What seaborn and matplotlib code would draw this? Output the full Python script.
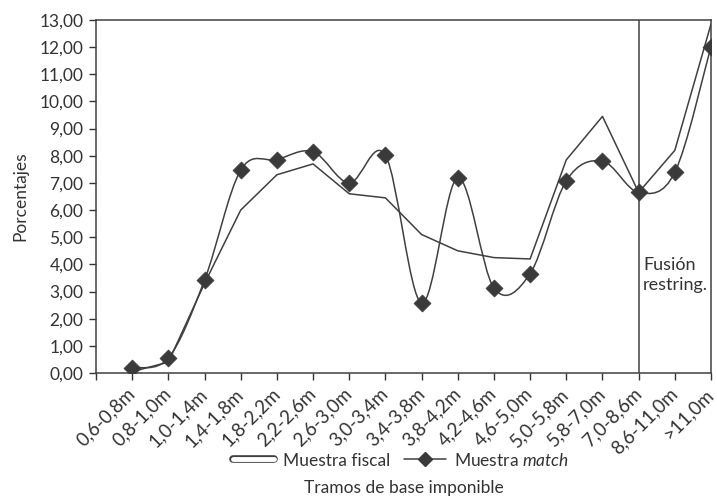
import numpy as np
import pandas as pd
import seaborn as sns
import matplotlib
matplotlib.use("Agg")
import matplotlib.pyplot as plt
from matplotlib.path import Path
from matplotlib.patches import PathPatch
from matplotlib.lines import Line2D
import matplotlib.patheffects as pe
from matplotlib.ticker import FuncFormatter, MultipleLocator

# Tramos de base imponible (millones) y porcentaje de observaciones por tramo
tramos = ["0,6-0,8m", "0,8-1,0m", "1,0-1,4m", "1,4-1,8m", "1,8-2,2m", "2,2-2,6m",
          "2,6-3,0m", "3,0-3,4m", "3,4-3,8m", "3,8-4,2m", "4,2-4,6m", "4,6-5,0m",
          "5,0-5,8m", "5,8-7,0m", "7,0-8,6m", "8,6-11,0m", ">11,0m"]
muestra_fiscal = [0.05, 0.40, 3.30, 6.00, 7.30, 7.70, 6.60, 6.45, 5.10, 4.50,
                  4.25, 4.20, 7.85, 9.45, 6.65, 8.20, 12.85]
muestra_match = [0.20, 0.55, 3.42, 7.47, 7.86, 8.15, 7.00, 8.02, 2.58, 7.19,
                 3.13, 3.66, 7.08, 7.80, 6.65, 7.39, 12.02]
tramo_fusion = "7,0-8,6m"
texto_fusion = "Fusión\nrestring."

INK = "#333333"
LINE = "#404040"

sns.set_theme(style="white")
plt.rcParams["font.family"] = ["Lato", "DejaVu Sans"]
plt.rcParams["mathtext.fontset"] = "custom"
plt.rcParams["mathtext.rm"] = "Lato"
plt.rcParams["mathtext.it"] = "Lato:italic"
plt.rcParams["text.color"] = INK
plt.rcParams["axes.labelcolor"] = INK
plt.rcParams["xtick.color"] = INK
plt.rcParams["ytick.color"] = INK

df = pd.DataFrame({
    "pos": np.arange(len(tramos)),
    "tramo": tramos,
    "fiscal": muestra_fiscal,
    "match": muestra_match,
})

fig = plt.figure(figsize=(7.17, 5.01), dpi=100)
W, H = 717, 501
ax = fig.add_axes([96 / W, 1 - 373 / H, (711 - 96) / W, (373 - 20) / H])

# Muestra fiscal: straight segments
sns.lineplot(data=df, x="pos", y="fiscal", ax=ax, color=LINE, lw=1.1,
             legend=False)


# Muestra match: smoothed curve (cubic Bezier through the points) + diamonds
def smooth_path(xs, ys):
    pts = np.column_stack([xs, ys]).astype(float)
    n = len(pts)
    verts = [pts[0]]
    codes = [Path.MOVETO]
    for i in range(n - 1):
        p0 = pts[max(i - 1, 0)]
        p1 = pts[i]
        p2 = pts[i + 1]
        p3 = pts[min(i + 2, n - 1)]
        verts += [p1 + (p2 - p0) / 6.0, p2 - (p3 - p1) / 6.0, p2]
        codes += [Path.CURVE4] * 3
    return Path(verts, codes)


ax.add_patch(PathPatch(smooth_path(df["pos"], df["match"]), facecolor="none",
                       edgecolor=LINE, lw=1.1, zorder=3))
sns.scatterplot(data=df, x="pos", y="match", ax=ax, marker="D", s=75,
                color="#3a3a3a", edgecolor="#3a3a3a", linewidth=0.5,
                zorder=4, legend=False)

# Vertical separator
xf = tramos.index(tramo_fusion)
ax.axvline(xf, color=LINE, lw=1.1, zorder=2)
ax.text(xf + 0.12, 3.6, texto_fusion, ha="left", va="center",
        fontsize=13, linespacing=1.3, color=INK)

# Axes formatting
ax.set_xlim(-1, len(tramos) - 1)
ax.set_ylim(0, 13)
ax.yaxis.set_major_locator(MultipleLocator(1))
ax.yaxis.set_major_formatter(FuncFormatter(lambda v, p: f"{v:.2f}".replace(".", ",")))
ax.set_xticks(np.arange(-1, len(tramos)))
ax.set_xticklabels([""] + tramos, rotation=45, ha="right", va="center",
                   rotation_mode="anchor", fontsize=13.5)
ax.tick_params(axis="y", labelsize=12.5, length=5, width=1, direction="out",
               left=True, pad=4)
ax.tick_params(axis="x", length=5, width=1, direction="out", bottom=True, pad=8)
for sp in ax.spines.values():
    sp.set_color(LINE)
    sp.set_linewidth(1.1)

ax.set_ylabel("Porcentajes", fontsize=12.5, labelpad=8)
ax.set_xlabel("Tramos de base imponible", fontsize=12.5)
ax.xaxis.set_label_coords(0.5, -0.302)

# Legend
h_fiscal = Line2D([], [], color="white", lw=3.5,
                  path_effects=[pe.Stroke(linewidth=5.5, foreground=LINE), pe.Normal()])
h_match = Line2D([], [], color=LINE, lw=1.1, marker="D", markersize=7,
                 markerfacecolor="#3a3a3a", markeredgecolor="#3a3a3a")
fig.legend([h_fiscal, h_match], ["Muestra fiscal", r"Muestra $\mathit{match}$"],
           loc="center", bbox_to_anchor=(401 / W, 1 - 460 / H), ncol=2,
           frameon=False, fontsize=12.5, handlelength=2.4, handletextpad=0.5,
           columnspacing=0.8, borderpad=0)

fig.savefig("out.png", dpi=100, facecolor="white")
